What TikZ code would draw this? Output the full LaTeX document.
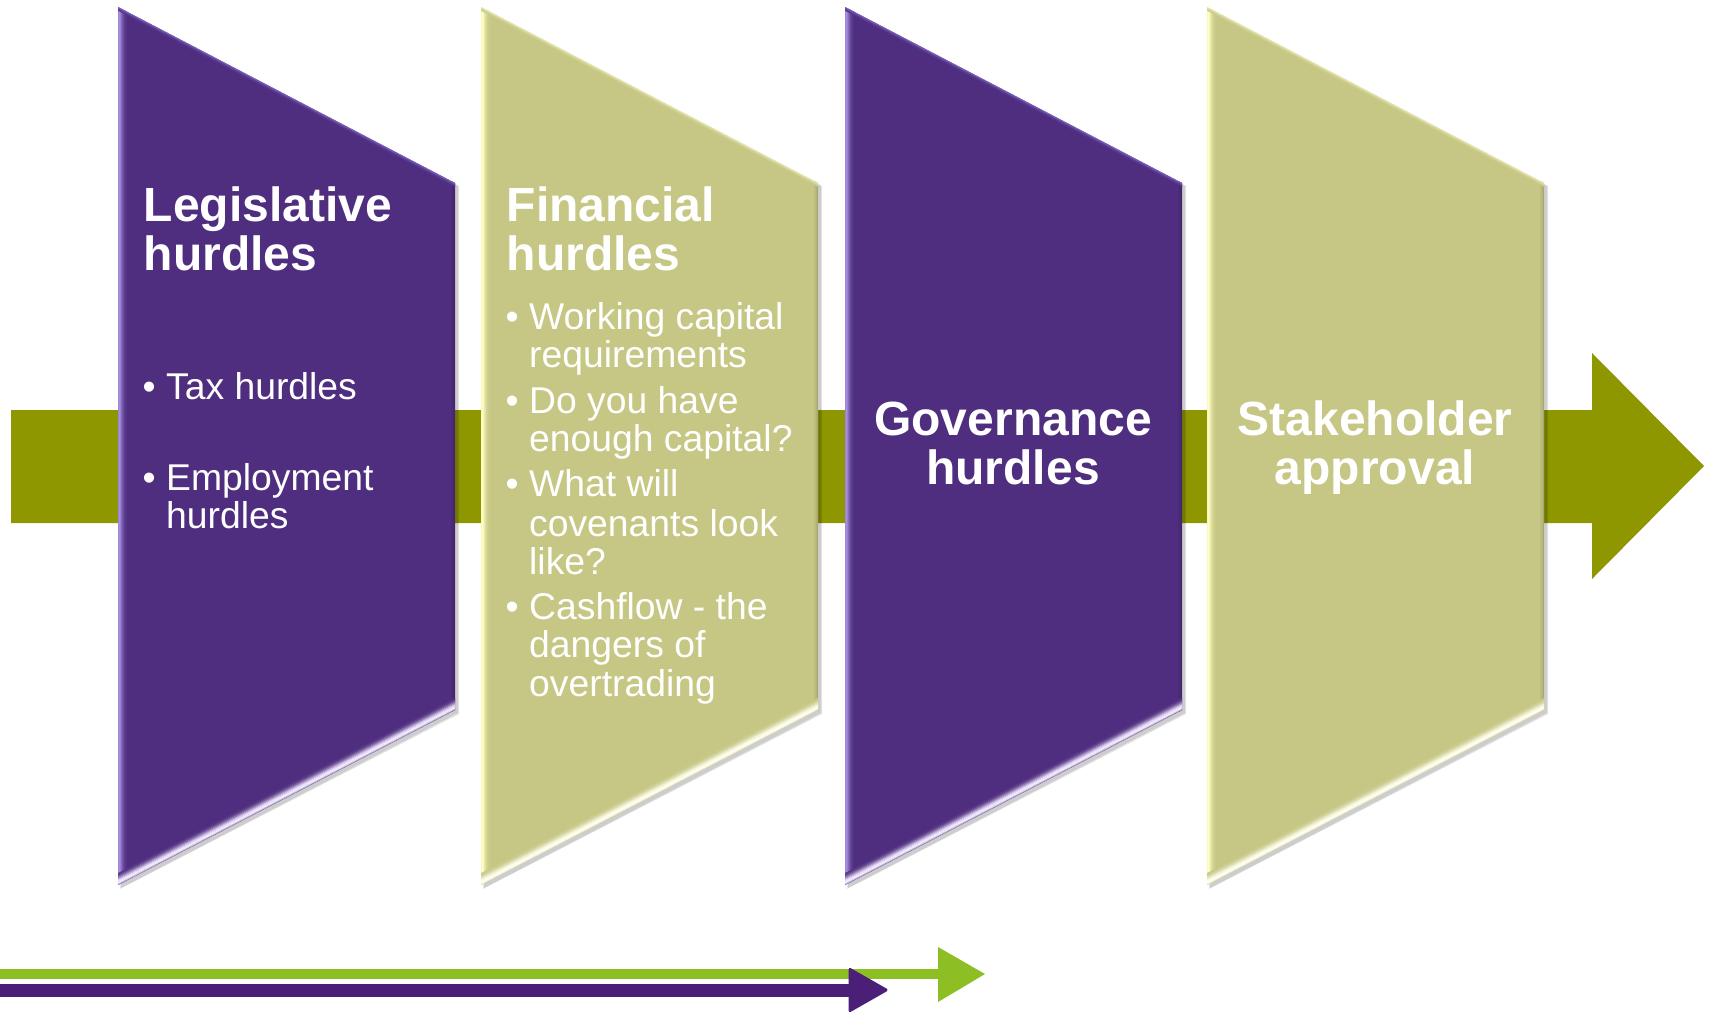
\documentclass[tikz,border=0pt]{standalone}
\usepackage{fontspec}
\setmainfont{Liberation Sans}
\definecolor{purpbase}{HTML}{4F2D7F}
\definecolor{purplight}{HTML}{A78FE0}
\definecolor{purphigh}{HTML}{F2EAFF}
\definecolor{purptop}{HTML}{9684E6}
\definecolor{khakibase}{HTML}{C6C784}
\definecolor{khakilight}{HTML}{FFFFC4}
\definecolor{khakihigh}{HTML}{FFFFF2}
\definecolor{khakitop}{HTML}{FAFAD0}
\definecolor{barolive}{HTML}{8E9600}
\definecolor{limegreen}{HTML}{8DBE23}
\definecolor{deeppurple}{HTML}{4B1E78}
\newcommand\hurdleshape[5]{%
  \fill[black,opacity=.10] ({#1+2},9) -- ({#1+341},186) -- ({#1+341},714) -- ({#1+2},889) -- cycle;
  \fill[black,opacity=.10] ({#1+3},10) -- ({#1+340},186) -- ({#1+340},713) -- ({#1+3},888) -- cycle;
  \begin{scope}
    \clip (#1,7) -- ({#1+337},183) -- ({#1+337},710) -- (#1,885) -- cycle;
    \fill[#2] (#1,0) rectangle ({#1+340},890);
    \foreach \i/\p in {0/15,1/10,2/5} {\draw[line width=1.3pt,black!\p!#2] ({#1+336-\i},0) -- ({#1+336-\i},890);}
    \foreach \i/\p in {0/60,1/90,2/100,3/85,4/65,5/45,6/30,7/18,8/8} {\draw[line width=1.3pt,#3!\p!#2] ({#1+\i},0) -- ({#1+\i},890);}
    \foreach \i/\p in {0/70,1/55,2/30,3/12} {\draw[line width=1.3pt,#5!\p!#2] (#1,{7+\i}) -- ({#1+340},{184.6+\i});}
    \foreach \i/\p in {0/40,1/75,2/100,3/100,4/92,5/78,6/58,7/40,8/25,9/12,10/5} {\draw[line width=1.3pt,#4!\p!#2] (#1,{885-\i*1.12}) -- ({#1+340},{708.4-\i*1.12});}
  \end{scope}}
\begin{document}
\begin{tikzpicture}[x=1pt,y=-1pt,
  title/.style={text=white,font=\fontsize{48}{50}\selectfont\bfseries,inner sep=0pt,anchor=base west},
  ctitle/.style={text=white,font=\fontsize{48}{50}\selectfont\bfseries,inner sep=0pt,anchor=base},
  item/.style={text=white,font=\fontsize{37.3}{38}\selectfont,inner sep=0pt,anchor=base west}]
\useasboundingbox (0,0) rectangle (1714,1012);
\fill[white] (0,0) rectangle (1714,1012);
% main olive arrow
\fill[barolive] (11,410) -- (1592,410) -- (1592,353) -- (1704,466) -- (1592,579) -- (1592,523) -- (11,523) -- cycle;
% hurdle shapes
\hurdleshape{118}{purpbase}{purplight}{purphigh}{purptop}
\hurdleshape{481}{khakibase}{khakilight}{khakihigh}{khakitop}
\hurdleshape{845}{purpbase}{purplight}{purphigh}{purptop}
\hurdleshape{1207}{khakibase}{khakilight}{khakihigh}{khakitop}
% texts
\node[title] (leg1) at (143.5,221) {Legislative};
\node[title] (leg2) at (143.5,270) {hurdles};
\node[item] (legb1) at (142.5,399) {•};
\node[item] (leg3) at (166,399) {Tax hurdles};
\node[item] (legb2) at (142.5,490) {•};
\node[item] (leg4) at (166,490) {Employment};
\node[item] (leg5) at (166,528) {hurdles};
\node[title] (fin1) at (506.5,221) {Financial};
\node[title] (fin2) at (506.5,270) {hurdles};
\node[item] (finb1) at (505.5,329) {•};
\node[item] (fin3) at (529,329) {Working capital};
\node[item] (fin4) at (529,367) {requirements};
\node[item] (finb2) at (505.5,413) {•};
\node[item] (fin5) at (529,413) {Do you have};
\node[item] (fin6) at (529,451) {enough capital?};
\node[item] (finb3) at (505.5,496) {•};
\node[item] (fin7) at (529,496) {What will};
\node[item] (fin8) at (529,536) {covenants look};
\node[item] (fin9) at (529,574) {like?};
\node[item] (finb4) at (505.5,619) {•};
\node[item] (fin10) at (529,619) {Cashflow - the};
\node[item] (fin11) at (529,657) {dangers of};
\node[item] (fin12) at (529,696) {overtrading};
\node[ctitle] (gov1) at (1013,435) {Governance};
\node[ctitle] (gov2) at (1013,484) {hurdles};
\node[ctitle] (stk1) at (1375,435) {Stakeholder};
\node[ctitle] (stk2) at (1375,484) {approval};
% bottom arrows
\coordinate (gs) at (0,974);
\coordinate (ge) at (938,974);
\coordinate (ps) at (0,990);
\coordinate (pe) at (849,990);
\fill[limegreen] (0,969) rectangle (938,979);
\fill[limegreen] (938,947) -- (985,974) -- (938,1002) -- cycle;
\fill[deeppurple] (0,983.5) rectangle (849,996.5);
\filldraw[deeppurple,line join=round,line width=3pt] (850,969.5) -- (886,990) -- (850,1010.5) -- cycle;
\end{tikzpicture}
\end{document}
